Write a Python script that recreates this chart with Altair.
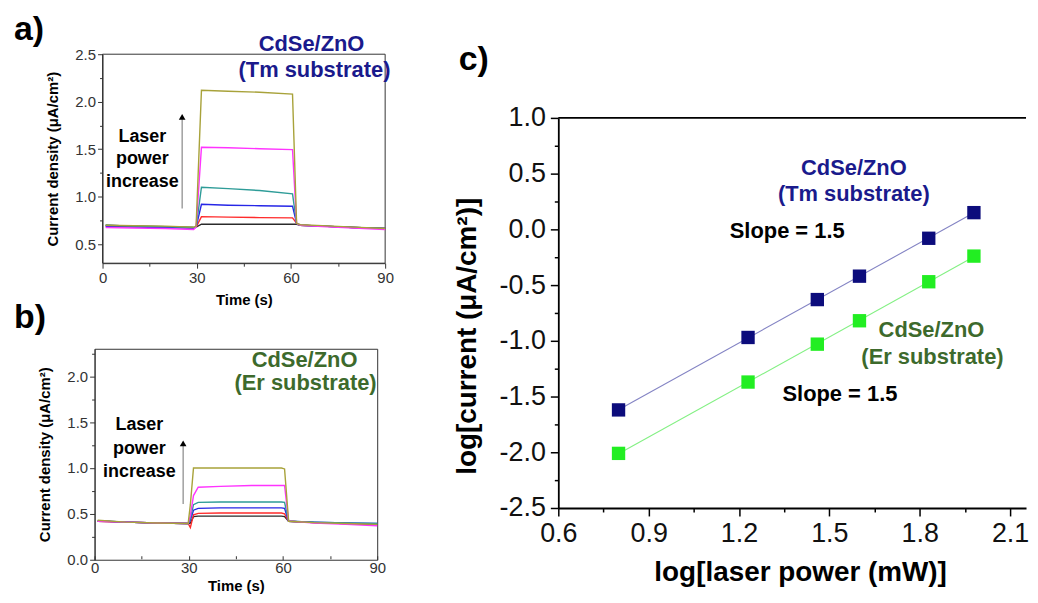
import altair as alt
import pandas as pd

FONT = "Liberation Sans"

# ---------------- data ----------------
series = ["P1", "P2", "P3", "P4", "P5", "P6"]
series_colors = ["#2b2b2b", "#ff2b2b", "#2626e6", "#2e9c98", "#ff33ff", "#a8a23a"]

# panel a (Tm substrate): time (s) and current density (uA/cm2)
t_a = [1, 10, 20, 29, 29.8, 31.5, 40, 50, 60.5, 61.8, 63, 70, 80, 90]
a_p1 = [0.70, 0.69, 0.685, 0.675, 0.68, 0.71, 0.71, 0.71, 0.71, 0.71, 0.70, 0.69, 0.675, 0.665]
a_p2 = [0.69, 0.685, 0.68, 0.67, 0.68, 0.79, 0.785, 0.78, 0.777, 0.72, 0.70, 0.69, 0.675, 0.665]
a_p3 = [0.685, 0.68, 0.675, 0.67, 0.68, 0.92, 0.91, 0.905, 0.90, 0.72, 0.70, 0.69, 0.675, 0.665]
a_p4 = [0.70, 0.69, 0.685, 0.675, 0.68, 1.10, 1.085, 1.065, 1.03, 0.72, 0.70, 0.69, 0.675, 0.665]
a_p5 = [0.675, 0.67, 0.665, 0.655, 0.68, 1.52, 1.515, 1.505, 1.495, 0.72, 0.70, 0.685, 0.67, 0.655]
a_p6 = [0.70, 0.695, 0.69, 0.68, 0.69, 2.12, 2.11, 2.10, 2.08, 0.72, 0.705, 0.695, 0.68, 0.665]

# panel b (Er substrate)
t_b = [1, 10, 20, 29.8, 30.5, 31.5, 33, 40, 50, 59.5, 60.5, 61.8, 70, 80, 90]
b_p1 = [0.42, 0.41, 0.40, 0.395, 0.40, 0.47, 0.475, 0.475, 0.475, 0.475, 0.47, 0.42, 0.405, 0.395, 0.385]
b_p2 = [0.42, 0.41, 0.40, 0.395, 0.35, 0.49, 0.505, 0.51, 0.51, 0.51, 0.50, 0.42, 0.405, 0.395, 0.385]
b_p3 = [0.425, 0.41, 0.40, 0.395, 0.43, 0.54, 0.56, 0.565, 0.565, 0.565, 0.56, 0.42, 0.41, 0.40, 0.395]
b_p4 = [0.425, 0.41, 0.40, 0.395, 0.45, 0.60, 0.625, 0.63, 0.63, 0.63, 0.625, 0.42, 0.41, 0.40, 0.395]
b_p5 = [0.42, 0.41, 0.40, 0.395, 0.48, 0.70, 0.79, 0.80, 0.81, 0.81, 0.81, 0.42, 0.40, 0.385, 0.37]
b_p6 = [0.43, 0.41, 0.40, 0.395, 0.60, 1.00, 1.00, 1.00, 1.00, 1.00, 0.99, 0.42, 0.405, 0.395, 0.385]

# panel c: log laser power vs log current
log_power = [0.80, 1.23, 1.46, 1.60, 1.83, 1.98]
log_cur_tm = [-1.62, -0.97, -0.63, -0.42, -0.08, 0.15]
log_cur_er = [-2.01, -1.37, -1.03, -0.82, -0.47, -0.24]
substrates = ["Tm", "Er"]
marker_colors = ["#0c0c7c", "#22ee22"]
fit_colors = ["#8484c4", "#84f084"]

# axis ticks
ticks_time = [0, 15, 30, 45, 60, 75, 90]
ticks_a_y = [0.5, 0.75, 1.0, 1.25, 1.5, 1.75, 2.0, 2.25, 2.5]
ticks_b_y = [0.0, 0.25, 0.5, 0.75, 1.0, 1.25, 1.5, 1.75, 2.0, 2.25]
ticks_c_x = [0.6, 0.75, 0.9, 1.05, 1.2, 1.35, 1.5, 1.65, 1.8, 1.95, 2.1]
ticks_c_y = [-2.5, -2.25, -2.0, -1.75, -1.5, -1.25, -1.0, -0.75, -0.5, -0.25,
             0.0, 0.25, 0.5, 0.75, 1.0]

# annotation texts
txt_a = ["a)", "b)", "CdSe/ZnO", "(Tm substrate)", "Laser", "power", "increase"]
txt_b = ["CdSe/ZnO", "(Er substrate)", "Laser", "power", "increase"]
txt_c = ["c)", "CdSe/ZnO", "(Tm substrate)", "Slope = 1.5", "CdSe/ZnO", "(Er substrate)", "Slope = 1.5"]

# ---------------- helpers ----------------
def long_df(t, cols):
    rows = []
    for name, vals in zip(series, cols):
        for ti, v in zip(t, vals):
            rows.append({"t": ti, "v": v, "s": name})
    return pd.DataFrame(rows)


def one():
    return pd.DataFrame({"k": [0]})


def label(text, x, y, size, color="black", weight="bold", align="center"):
    return alt.Chart(pd.DataFrame({"txt": [text]})).mark_text(
        font=FONT, fontSize=size, fontWeight=weight, color=color,
        align=align, baseline="middle"
    ).encode(x=alt.value(x), y=alt.value(y), text="txt:N")


def extent(x1, y1, x2, y2):
    return alt.Chart(one()).mark_rule(opacity=0).encode(
        x=alt.value(x1), y=alt.value(y1), x2=alt.value(x2), y2=alt.value(y2))


def arrow(x, y_bottom, y_top):
    shaft = alt.Chart(one()).mark_rule(color="#888888", strokeWidth=1.2).encode(
        x=alt.value(x), y=alt.value(y_bottom), y2=alt.value(y_top + 4))
    head = alt.Chart(one()).mark_point(shape="triangle-up", filled=True, color="black",
                                       size=45, opacity=1).encode(
        x=alt.value(x), y=alt.value(y_top + 3))
    return shaft + head


def small_axis(values, title, major_test, fmt_expr, offset=0, major=5, minor=3,
               label_pad=2, title_pad=8, domain=True):
    return alt.Axis(
        values=values, title=title, labelExpr=fmt_expr, offset=offset, domain=domain,
        tickSize={"condition": {"test": major_test, "value": major}, "value": minor},
        tickColor="#333333", domainColor="#333333", tickWidth=1,
        labelFont=FONT, labelFontSize=15, labelColor="#333333", labelPadding=label_pad,
        labelFlush=False, labelOverlap=False,
        titleFont=FONT, titleFontSize=15, titleFontWeight="bold", titleColor="black",
        titlePadding=title_pad, grid=False)


color_scale = alt.Scale(domain=series, range=series_colors)

time_major = "datum.value % 30 == 0"
time_fmt = "datum.value % 30 == 0 ? datum.label : ''"
half_major = "abs(datum.value * 2 - round(datum.value * 2)) < 0.001"
half_fmt = "abs(datum.value * 2 - round(datum.value * 2)) < 0.001 ? format(datum.value, '.1f') : ''"
y_title_small = "Current density (\u03bcA/cm\u00b2)"

# ---------------- panel a ----------------
# a's plot sits 8px right of b's; its x range starts at 8
WA, HA, SA = 292, 210, 8
df_a = long_df(t_a, [a_p1, a_p2, a_p3, a_p4, a_p5, a_p6])
lines_a = alt.Chart(df_a).mark_line(strokeWidth=1.4).encode(
    x=alt.X("t:Q", scale=alt.Scale(domain=[0, 90], nice=False, zero=False, range=[SA, WA]),
            axis=small_axis(ticks_time, "Time (s)", time_major, time_fmt)),
    y=alt.Y("v:Q", scale=alt.Scale(domain=[0.3, 2.5], nice=False, zero=False),
            axis=small_axis(ticks_a_y, y_title_small, half_major, half_fmt,
                            offset=-SA, title_pad=14)),
    color=alt.Color("s:N", scale=color_scale, legend=None),
    detail="s:N",
)
frame_a = alt.Chart(one()).mark_rect(fill="transparent", stroke="#333333", strokeWidth=1).encode(
    x=alt.value(SA), x2=alt.value(WA), y=alt.value(0), y2=alt.value(HA))
panel_a = alt.layer(
    extent(-82, -42, 304, 284),
    frame_a,
    lines_a,
    arrow(88, 155, 60),
    label(txt_a[0], -81, -24, 34, align="left"),
    label(txt_a[1], -81, 265, 34, align="left"),
    label(txt_a[2], 218, -10, 22, color="#1a1a8c"),
    label(txt_a[3], 221, 16, 22, color="#1a1a8c"),
    label(txt_a[4], 48, 83, 18),
    label(txt_a[5], 48, 105, 18),
    label(txt_a[6], 48, 128, 18),
).properties(width=WA, height=HA, view=alt.ViewBackground(stroke="transparent"))

# ---------------- panel b ----------------
df_b = long_df(t_b, [b_p1, b_p2, b_p3, b_p4, b_p5, b_p6])
lines_b = alt.Chart(df_b).mark_line(strokeWidth=1.4).encode(
    x=alt.X("t:Q", scale=alt.Scale(domain=[0, 90], nice=False, zero=False),
            axis=small_axis(ticks_time, "Time (s)", time_major, time_fmt,
                            offset=-4, major=4, minor=3, label_pad=1, title_pad=3,
                            domain=False)),
    y=alt.Y("v:Q", scale=alt.Scale(domain=[0.0, 2.3], nice=False, zero=False),
            axis=small_axis(ticks_b_y, y_title_small, half_major, half_fmt, title_pad=14)),
    color=alt.Color("s:N", scale=color_scale, legend=None),
    detail="s:N",
)
panel_b = alt.layer(
    extent(-82, -10, 0, 0),
    lines_b,
    arrow(89, 156, 92),
    label(txt_b[0], 211, 11, 22, color="#3d6a2c"),
    label(txt_b[1], 212, 34, 22, color="#3d6a2c"),
    label(txt_b[2], 45, 77, 18),
    label(txt_b[3], 45, 101, 18),
    label(txt_b[4], 45, 124, 18),
).properties(width=284, height=212,
             view=alt.ViewBackground(stroke="#333333", strokeWidth=1))

# ---------------- panel c ----------------
# c's plot starts 64px below a's top; its y range is offset by that much
W_C, OFF_C, H_C = 470, 64, 392
df_c = pd.concat([
    pd.DataFrame({"lp": log_power, "lc": log_cur_tm, "sub": substrates[0]}),
    pd.DataFrame({"lp": log_power, "lc": log_cur_er, "sub": substrates[1]}),
], ignore_index=True)

c_x_major = "abs(datum.value / 0.3 - round(datum.value / 0.3)) < 0.01"
c_x_fmt = c_x_major + " ? format(datum.value, '.1f') : ''"
c_y_fmt = half_major + " ? ((datum.value < 0 ? '-' : '') + format(abs(datum.value), '.1f')) : ''"


def big_axis(values, title, major_test, fmt_expr, title_pad, **kw):
    return alt.Axis(
        values=values, title=title, labelExpr=fmt_expr,
        tickSize={"condition": {"test": major_test, "value": 8}, "value": 4},
        tickColor="black", domainColor="black", tickWidth=1.5, domainWidth=1.8,
        labelFont=FONT, labelFontSize=27, labelColor="#111111", labelPadding=5,
        labelFlush=False, labelOverlap=False,
        titleFont=FONT, titleFontSize=28, titleFontWeight="bold", titleColor="black",
        titlePadding=title_pad, grid=False, **kw)


xc = alt.X("lp:Q", scale=alt.Scale(domain=[0.6, 2.153], nice=False, zero=False),
           axis=big_axis(ticks_c_x, "log[laser power (mW)]", c_x_major, c_x_fmt, 12,
                         titleX=243))
yc = alt.Y("lc:Q", scale=alt.Scale(domain=[-2.5, 1.0], nice=False, zero=False,
                                   range=[OFF_C + H_C, OFF_C]),
           axis=big_axis(ticks_c_y, "log[current (\u03bcA/cm\u00b2)]", half_major, c_y_fmt, 18,
                         titleY=OFF_C + 219))

fits = alt.Chart(df_c).transform_regression("lp", "lc", groupby=["sub"]).mark_line(
    strokeWidth=1.1).encode(
    x=xc, y=yc,
    color=alt.Color("sub:N", scale=alt.Scale(domain=substrates, range=fit_colors), legend=None))
squares = alt.Chart(df_c).mark_square(size=180, opacity=1, filled=True).encode(
    x=xc, y=yc,
    color=alt.Color("sub:N", scale=alt.Scale(domain=substrates, range=marker_colors), legend=None))
top_border = alt.Chart(one()).mark_rule(color="black", strokeWidth=1.8).encode(
    x=alt.value(0), x2=alt.value(W_C), y=alt.value(OFF_C))

panel_c = alt.layer(
    extent(-160, 0, 0, 0),
    top_border,
    fits,
    squares,
    label(txt_c[0], -85, OFF_C - 58, 34),
    label(txt_c[1], 297, OFF_C + 50, 22, color="#1a1a8c"),
    label(txt_c[2], 297, OFF_C + 77, 22, color="#1a1a8c"),
    label(txt_c[3], 230, OFF_C + 114, 22),
    label(txt_c[4], 375, OFF_C + 213, 22, color="#3d6a2c"),
    label(txt_c[5], 376, OFF_C + 240, 22, color="#3d6a2c"),
    label(txt_c[6], 283, OFF_C + 277, 22),
).resolve_scale(color="independent").properties(
    width=W_C, height=OFF_C + H_C, view=alt.ViewBackground(stroke="transparent"))

left = alt.concat(panel_a, panel_b, columns=1, spacing=0)
chart = alt.concat(left, panel_c, columns=2, spacing=0).properties(
    padding={"left": 4, "top": 2, "right": 0, "bottom": 0},
    background="white",
).configure(font=FONT).configure_view(stroke="transparent")

chart.save("out.html", embed_options={"renderer": "svg", "actions": False})
